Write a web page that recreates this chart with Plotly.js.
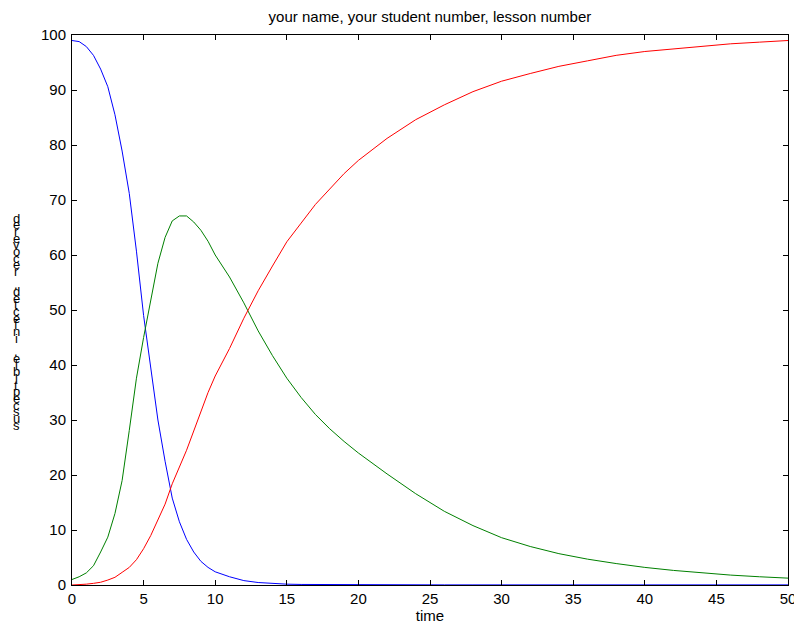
<!DOCTYPE html>
<html>
<head>
<meta charset="utf-8">
<script src="https://cdn.plot.ly/plotly-3.0.1.min.js"></script>
<style>html,body{margin:0;padding:0;background:#fff;}#chart{width:794px;height:625px;}</style>
</head>
<body>
<div id="chart"></div>
<script>
const timeVals = [0,0.5,1,1.5,2,2.5,3,3.5,4,4.5,5,5.5,6,6.5,7,7.5,8,8.5,9,9.5,10,11,12,13,14,15,16,17,18,19,20,22,24,26,28,30,32,34,36,38,40,42,44,46,48,50];
const susceptible = [99.0,98.8,97.9,96.3,93.8,90.6,85.5,78.9,71.2,60.7,49.0,39.5,30.0,22.5,15.8,11.5,8.3,6.0,4.3,3.2,2.4,1.5,0.8,0.45,0.25,0.15,0.1,0.08,0.06,0.05,0.04,0.03,0.03,0.02,0.02,0.02,0.02,0.02,0.02,0.02,0.02,0.02,0.02,0.02,0.02,0.02];
const infected = [1.0,1.5,2.2,3.5,6.0,8.7,13.0,19.0,28.1,37.6,45.0,52.0,58.5,63.2,66.2,67.1,67.1,66.0,64.5,62.5,60.0,56.0,51.3,46.2,41.7,37.6,34.1,31.0,28.4,26.1,24.0,20.2,16.6,13.4,10.8,8.6,7.0,5.7,4.7,3.9,3.2,2.65,2.2,1.8,1.5,1.25];
const recovered = [0,0.05,0.15,0.3,0.5,0.9,1.4,2.3,3.2,4.6,6.6,9.0,11.8,14.7,18.4,21.5,24.5,28.0,31.5,35.0,38.0,43.0,48.5,53.5,58.0,62.4,65.8,69.2,72.0,74.8,77.2,81.2,84.6,87.3,89.7,91.6,93.0,94.3,95.3,96.3,97.0,97.5,98.0,98.4,98.7,99.0];
const xTickVals = [0,5,10,15,20,25,30,35,40,45,50];
const yTickVals = [0,10,20,30,40,50,60,70,80,90,100];
const titleText = "your name, your student number, lesson number";
const xLabel = "time";
const yLabel = "susceptible, infected, recovered";

const FONT = "Liberation Sans, Arial, sans-serif";
const traces = [
  {x: timeVals, y: susceptible, mode: "lines", line: {color: "#0000ff", width: 1}},
  {x: timeVals, y: infected, mode: "lines", line: {color: "#008000", width: 1}},
  {x: timeVals, y: recovered, mode: "lines", line: {color: "#ff0000", width: 1}}
];

// stacked (reversed) y label characters
const chars = yLabel.split("").reverse();
const topPx = 218, stepPx = 6.68, plotTop = 35, plotH = 550;
const annotations = chars.map((c, i) => ({
  text: c === " " ? "" : c,
  xref: "paper", yref: "paper",
  x: (16 - 72) / 716, y: 1 - (topPx + i * stepPx - plotTop) / plotH,
  xanchor: "center", yanchor: "middle",
  showarrow: false,
  font: {family: FONT, size: 13, color: "#000"}
}));

const axisCommon = {
  showline: true, linecolor: "#000", linewidth: 1, mirror: "ticks",
  ticks: "inside", ticklen: 5, tickcolor: "#000", tickwidth: 1,
  showgrid: false, zeroline: false,
  ticklabeloverflow: "allow",
  tickfont: {family: FONT, size: 15, color: "#000"}
};

const layout = {
  width: 794, height: 625,
  margin: {l: 72, r: 6, t: 35, b: 40},
  paper_bgcolor: "#fff", plot_bgcolor: "#fff",
  showlegend: false,
  title: {text: titleText, font: {family: FONT, size: 15, color: "#000"}, x: 0.5415, xanchor: "center", y: 0.973, yanchor: "middle"},
  xaxis: Object.assign({}, axisCommon, {range: [0, 50], tickvals: xTickVals, ticktext: xTickVals.map(String), ticklabelstandoff: 0,
    title: {text: xLabel, font: {family: FONT, size: 15, color: "#000"}, standoff: 2}}),
  yaxis: Object.assign({}, axisCommon, {range: [0, 100], tickvals: yTickVals, ticktext: yTickVals.map(String), ticklabelstandoff: 2}),
  annotations: annotations
};

Plotly.newPlot("chart", traces, layout, {displayModeBar: false, staticPlot: true});
</script>
</body>
</html>
